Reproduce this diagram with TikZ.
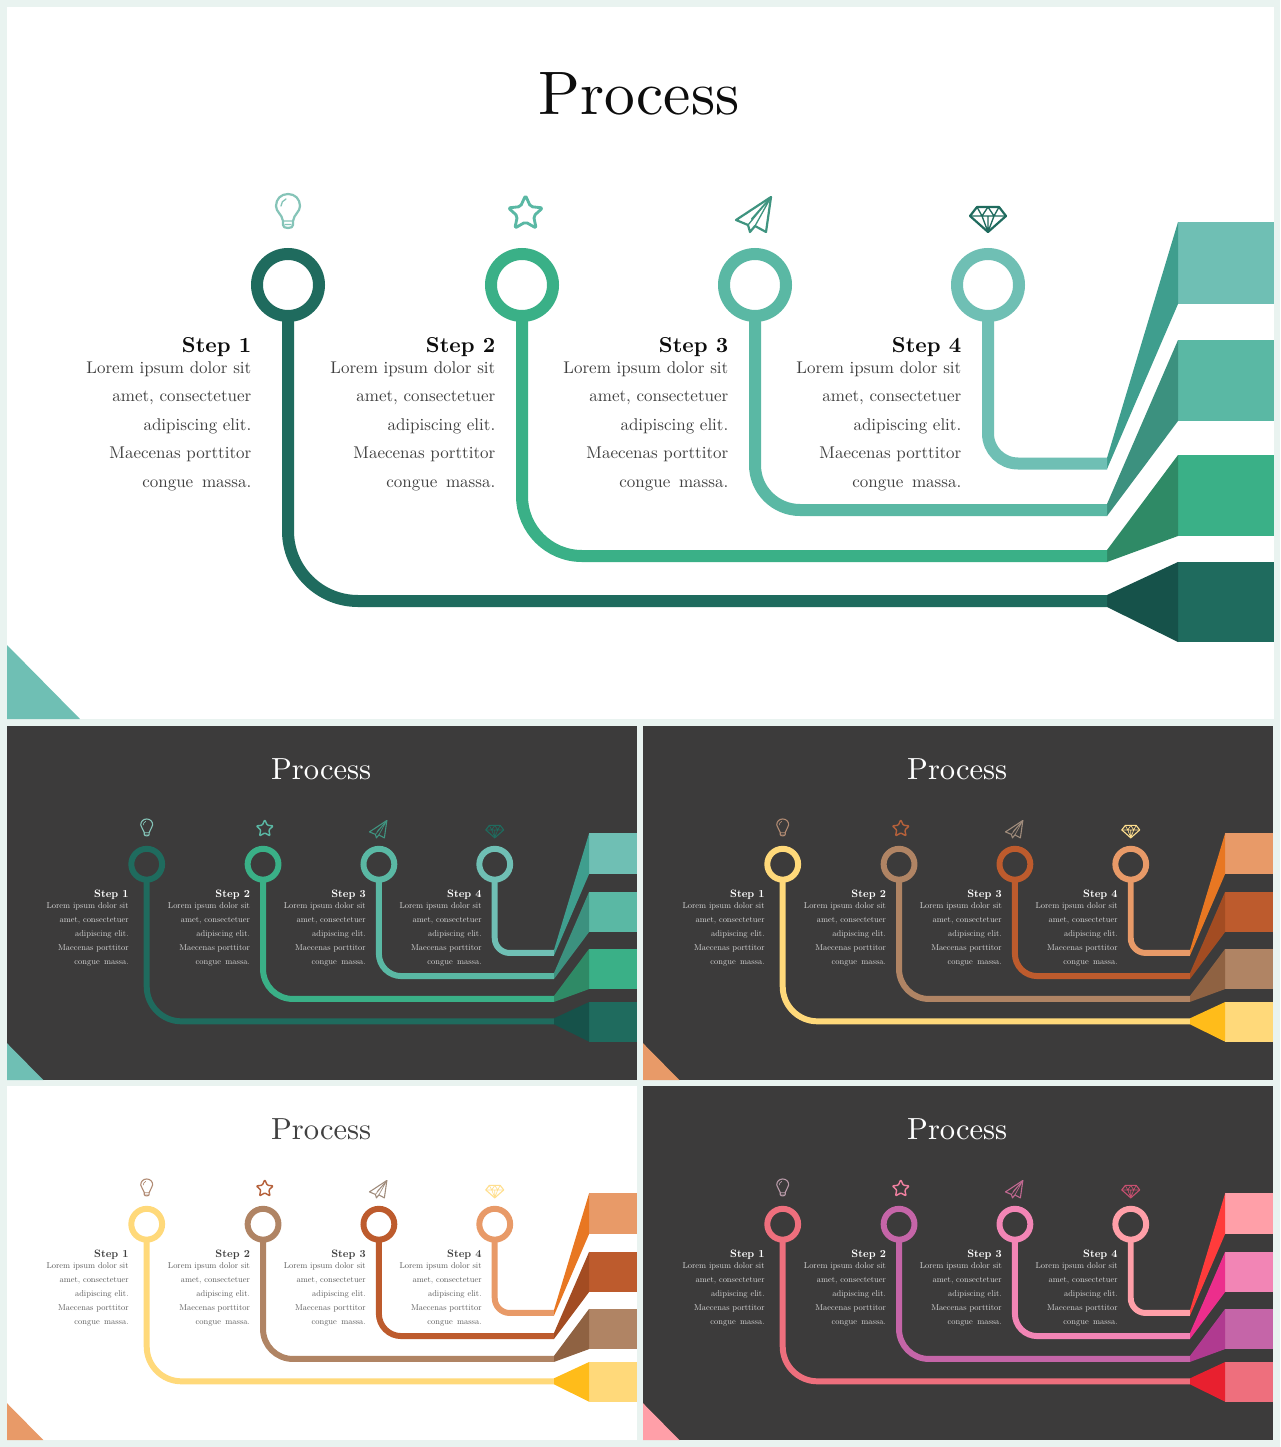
\documentclass[tikz,border=0pt]{standalone}
\usepackage{fontspec}
\setmainfont{lmroman10-regular}[Extension=.otf,BoldFont=lmroman10-bold]
\definecolor{pageedge}{HTML}{E9F3F0}
\definecolor{darkbg}{HTML}{3C3B3B}
\newcommand\setpalette[1]{%
  \ifnum#1=1
    \definecolor{cA}{HTML}{1F6B5E}\definecolor{cB}{HTML}{3AB087}\definecolor{cC}{HTML}{5AB8A4}\definecolor{cD}{HTML}{6FBFB4}%
    \definecolor{dA}{HTML}{16524A}\definecolor{dB}{HTML}{2F8A66}\definecolor{dC}{HTML}{3C917F}\definecolor{dD}{HTML}{3F9E8E}%
    \definecolor{iA}{HTML}{85C4B8}\definecolor{iB}{HTML}{5AB8A4}\definecolor{iC}{HTML}{3F9480}\definecolor{iD}{HTML}{1F6B5E}%
  \fi
  \ifnum#1=2
    \definecolor{cA}{HTML}{FFD97A}\definecolor{cB}{HTML}{B08464}\definecolor{cC}{HTML}{BD5B2D}\definecolor{cD}{HTML}{E89A68}%
    \definecolor{dA}{HTML}{FFBC1A}\definecolor{dB}{HTML}{8F6242}\definecolor{dC}{HTML}{A34C22}\definecolor{dD}{HTML}{E87722}%
    \definecolor{iA}{HTML}{B08A72}\definecolor{iB}{HTML}{B5603A}\definecolor{iC}{HTML}{A08C7C}\definecolor{iD}{HTML}{FFDF8E}%
  \fi
  \ifnum#1=3
    \definecolor{cA}{HTML}{EE6F7D}\definecolor{cB}{HTML}{C565A8}\definecolor{cC}{HTML}{F285B5}\definecolor{cD}{HTML}{FF9FA8}%
    \definecolor{dA}{HTML}{E8202F}\definecolor{dB}{HTML}{B03A90}\definecolor{dC}{HTML}{EC2E8C}\definecolor{dD}{HTML}{FF3B3B}%
    \definecolor{iA}{HTML}{B89AA8}\definecolor{iB}{HTML}{F080A0}\definecolor{iC}{HTML}{C06890}\definecolor{iD}{HTML}{C85070}%
  \fi
}
% step: prefix, index, ring x, text right edge, rail y, corner radius, colour
\newcommand\stepunit[7]{%
  \node[ringnode,draw=#7] (#1r#2) at (#3,285) {};
  \coordinate (#1e#2) at (1107,#5);
  \pgfmathsetmacro\myR{#6*\myS}%
  \draw[draw=#7,line width=\myLW pt,rounded corners=\myR pt] (#1r#2.south) |- (#1e#2);
  \node[stepnode] (#1h#2) at (#4,352) {Step #2};
  \node[bodynode] (#1b#2) at (#4,361) {Lorem ipsum dolor sit\\amet, consectetuer\\adipiscing elit.\\Maecenas porttitor\\congue\hspace{0.18em} massa.};
}
\newcommand\bandunit[7]{% top y, bottom y, stub top, stub bottom, colour, shade
  \fill[#5] (1178,#1) rectangle (1273.5,#2);
  \fill[#6] (1107,#3) -- (1178,#1) -- (1178,#2) -- (1107,#4) -- cycle;
}
% prefix, x, y, scale, background, title/step colour, body colour
\newcommand\slideunit[7]{%
  \pgfmathsetmacro\myS{#4}%
  \pgfmathsetmacro\myLW{12*\myS}%
  \pgfmathsetmacro\myIL{2.2*\myS}%
  \pgfmathsetmacro\myRing{62*\myS}%
  \pgfmathsetmacro\myTitle{61.4*\myS}%
  \pgfmathsetmacro\myStep{21.6*\myS}%
  \pgfmathsetmacro\myBody{17*\myS}%
  \pgfmathsetmacro\myLead{28.6*\myS}%
  \pgfmathsetmacro\myOx{#2-7*\myS}%
  \pgfmathsetmacro\myOy{#3-7*\myS}%
  \begin{scope}[shift={(\myOx,\myOy)},scale=\myS,
    ringnode/.style={circle,minimum size=\myRing pt,inner sep=0pt,outer sep=0pt,line width=\myLW pt},
    stepnode/.style={anchor=base east,xshift=0.5pt,inner sep=0pt,text=#6,font={\fontsize{\myStep}{\myStep}\bfseries\selectfont}},
    bodynode/.style={anchor=north east,xshift=0.5pt,inner sep=0pt,align=right,text=#7,font={\fontsize{\myBody}{\myLead}\selectfont}},
    titlenode/.style={anchor=base,inner sep=0pt,text=#6,font={\fontsize{\myTitle}{\myTitle}\selectfont}},
    iconline/.style={line width=\myIL pt,line join=round,line cap=round}]
    \fill[#5] (7,7) rectangle (1274,719);
    \fill[cD] (7,645) -- (80,719) -- (7,719) -- cycle;
    \node[titlenode] (#1title) at (639,115) {Process};
    \bandunit{222}{304}{458}{469}{cD}{dD}{}
    \bandunit{340}{421}{504}{516}{cC}{dC}{}
    \bandunit{455}{536}{550}{562}{cB}{dB}{}
    \bandunit{562}{642}{595}{607}{cA}{dA}{}
    \stepunit{#1}{1}{288}{251}{601}{70}{cA}
    \stepunit{#1}{2}{522}{495}{556}{60}{cB}
    \stepunit{#1}{3}{755}{728}{510}{45}{cC}
    \stepunit{#1}{4}{988}{961}{463.5}{30}{cD}
    % bulb
    \draw[iconline,iA] (283,221) .. controls (282,214) and (276,212) .. (276,206) .. controls (276,199) and (281,194) .. (288,194) .. controls (295,194) and (300,199) .. (300,206) .. controls (300,212) and (294,214) .. (293,221) -- (293,225) .. controls (293,227) and (291,228) .. (288,228) .. controls (285,228) and (283,227) .. (283,225) -- cycle;
    \draw[iconline,iA,line width=0.6*\myIL pt] (283,221) -- (293,221) (281,206) .. controls (281,203) and (283,200) .. (286,199) (285,224.5) -- (291,224.5);
    % star
    \pgfmathsetmacro\myRc{2*\myS}%
    \draw[iconline,iB,line width=1.3*\myIL pt,rounded corners=\myRc pt] (525.5,195.5) -- (530.5,206.6) -- (542.6,207.9) -- (533.6,216.1) -- (536.1,228.1) -- (525.5,222) -- (514.9,228.1) -- (517.4,216.1) -- (508.4,207.9) -- (520.5,206.6) -- cycle;
    % plane
    \draw[iconline,iC] (771,197) -- (736,220) -- (748,225) -- (750,232) -- (755,226) -- (766,232) -- cycle;
    \draw[iconline,iC,line width=0.6*\myIL pt] (771,197) -- (748,225) (771,197) -- (755,226) (771,197) -- (751.5,219);
    % diamond
    \draw[iconline,iD] (977,207) -- (999,207) -- (1006,216) -- (988,232) -- (970,216) -- cycle;
    \draw[iconline,iD,line width=0.6*\myIL pt] (970,216) -- (1006,216) (977,207) -- (982,216) -- (988,207) -- (994,216) -- (999,207) (982,216) -- (988,232) -- (994,216) (988,216) -- (988,232);
  \end{scope}
}
\begin{document}
\begin{tikzpicture}[x=1pt,y=-1pt]
  \useasboundingbox (0,0) rectangle (1280,1447);
  \fill[pageedge] (0,0) rectangle (1280,1447);
  \setpalette{1}
  \slideunit{m}{7}{7}{1}{white}{black!95}{black!75}
  \slideunit{a}{7}{726}{0.4972}{darkbg}{white}{white!85!black}
  \setpalette{2}
  \slideunit{b}{643}{726}{0.4972}{darkbg}{white}{white!85!black}
  \slideunit{c}{7}{1086}{0.4972}{white}{black!75}{black!65}
  \setpalette{3}
  \slideunit{d}{643}{1086}{0.4972}{darkbg}{white}{white!85!black}
\end{tikzpicture}
\end{document}
